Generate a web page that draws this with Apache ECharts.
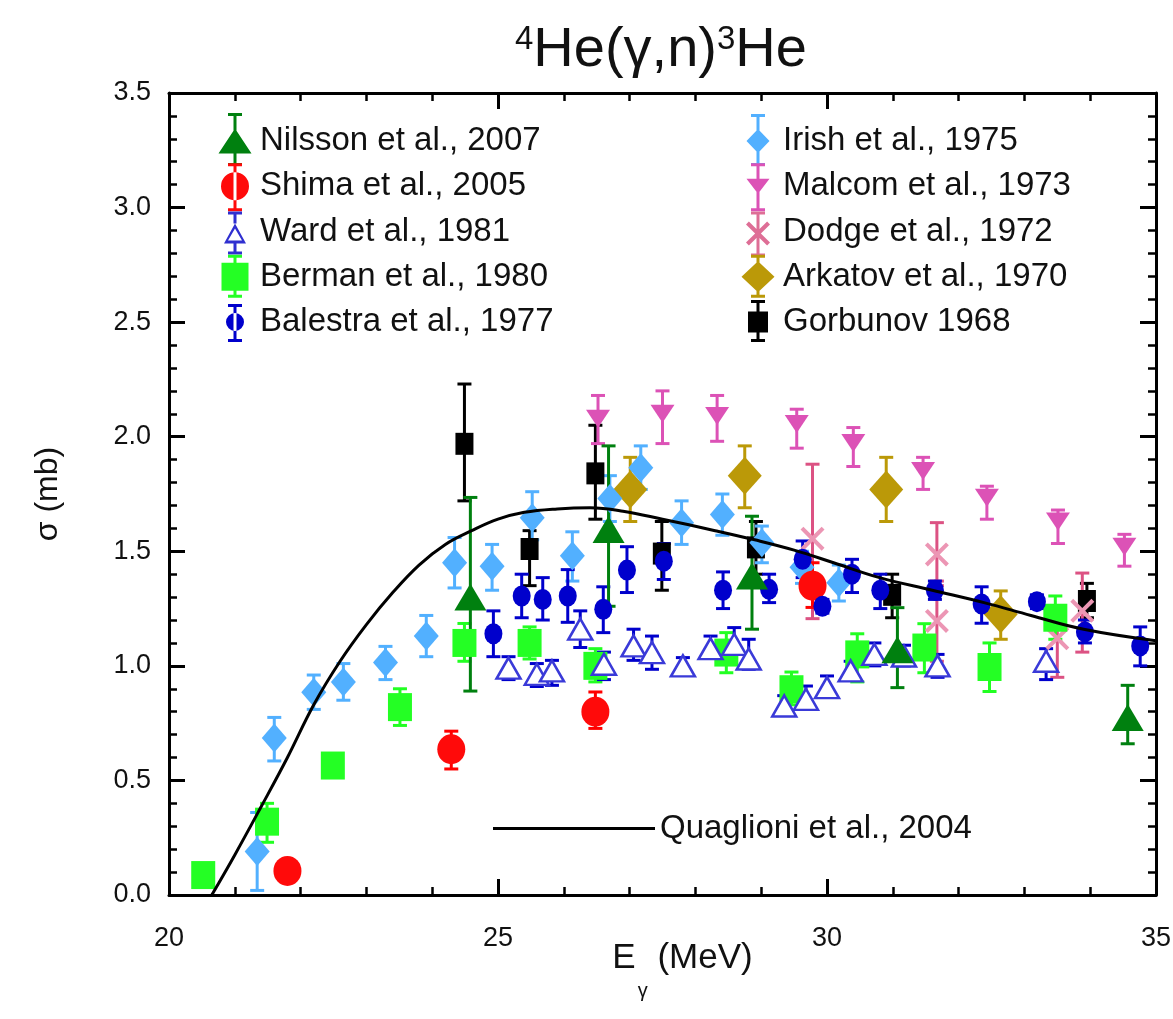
<!DOCTYPE html>
<html><head><meta charset="utf-8">
<script src="https://cdn.jsdelivr.net/npm/echarts@6/dist/echarts.min.js"></script>
<style>html,body{margin:0;padding:0;background:#fff}#c{width:1173px;height:1019px}</style>
</head><body><div id="c"></div><script>
// ---- data: [E (MeV), sigma (mb), sigma low, sigma high] ----
const nilsson = [[24.58,1.30,0.89,1.735],[26.68,1.595,1.26,1.96],[28.86,1.392,1.16,1.653],[31.07,1.07,0.905,1.254],[34.57,0.775,0.66,0.915]];
const shima = [[21.80,0.105,0.075,0.135],[24.29,0.636,0.55,0.715],[26.48,0.80,0.727,0.886],[29.78,1.35,1.255,1.45]];
const ward = [[25.16,0.99,0.94,1.04],[25.59,0.963,0.91,1.01],[25.82,0.978,0.915,1.024],[26.25,1.16,1.08,1.24],
  [26.61,1.007,0.94,1.06],[27.06,1.087,1.024,1.16],[27.34,1.058,0.985,1.13],[27.81,1.0,0.97,1.036],
  [28.23,1.075,1.036,1.13],[28.59,1.094,1.05,1.167],[28.81,1.03,0.985,1.116],[29.35,0.825,0.79,0.87],
  [29.68,0.854,0.81,0.912],[30.0,0.905,0.876,0.956],[30.36,0.978,0.94,1.02],[30.72,1.05,1.0,1.10],
  [31.17,1.043,1.0,1.09],[31.68,1.0,0.95,1.05],[33.33,1.02,0.94,1.075]];
const berman = [[20.52,0.087,0.06,0.11],[21.49,0.32,0.23,0.40],[22.49,0.565,0.54,0.59],[23.51,0.82,0.74,0.90],
  [24.49,1.10,1.02,1.185],[25.48,1.10,1.03,1.17],[26.48,1.0,0.93,1.075],[28.47,1.058,0.97,1.145],
  [29.46,0.898,0.83,0.973],[30.46,1.05,0.93,1.14],[31.48,1.08,0.97,1.184],[32.47,0.995,0.888,1.10],
  [33.47,1.21,1.116,1.305]];
const balestra = [[24.93,1.14,1.04,1.24],[25.36,1.305,1.21,1.40],[25.68,1.29,1.20,1.385],[26.06,1.305,1.19,1.42],
  [26.60,1.247,1.145,1.345],[26.96,1.418,1.32,1.52],[27.52,1.457,1.377,1.534],[28.42,1.33,1.25,1.41],
  [29.12,1.334,1.276,1.40],[29.63,1.465,1.385,1.545],[29.93,1.26,1.23,1.29],[30.38,1.40,1.32,1.465],
  [30.81,1.33,1.25,1.40],[31.64,1.33,1.29,1.37],[32.35,1.27,1.186,1.345],[33.19,1.28,1.25,1.31],
  [33.92,1.148,1.10,1.20],[34.76,1.087,1.0,1.17]];
const irish = [[21.34,0.19,0.02,0.36],[21.60,0.685,0.585,0.775],[22.20,0.885,0.81,0.96],[22.65,0.93,0.85,1.01],
  [23.29,1.015,0.94,1.085],[23.91,1.13,1.04,1.22],[24.34,1.45,1.34,1.56],[24.91,1.435,1.33,1.53],
  [25.52,1.646,1.55,1.76],[26.13,1.48,1.37,1.585],[26.70,1.73,1.63,1.83],[27.17,1.865,1.77,1.96],
  [27.79,1.625,1.53,1.72],[28.41,1.66,1.57,1.75],[29.01,1.537,1.45,1.61],[29.62,1.43,1.36,1.50],
  [30.18,1.363,1.283,1.44]];
const malcom = [[26.52,2.078,1.97,2.18],[27.50,2.10,1.97,2.20],[28.33,2.09,1.98,2.18],[29.54,2.055,1.95,2.12],
  [30.40,1.973,1.87,2.04],[31.46,1.85,1.77,1.91],[32.43,1.734,1.64,1.784],[33.51,1.63,1.534,1.68],
  [34.52,1.52,1.435,1.574]];
const dodge = [[29.78,1.555,1.206,1.88],[31.67,1.486,1.35,1.625],[31.67,1.196,1.02,1.37],[33.50,1.12,0.95,1.25],[33.88,1.24,1.06,1.405]];
const arkatov = [[27.01,1.77,1.63,1.91],[28.75,1.83,1.69,1.96],[30.90,1.77,1.63,1.91],[32.64,1.225,1.116,1.327]];
const gorbunov = [[24.49,1.969,1.72,2.23],[25.48,1.51,1.35,1.59],[26.48,1.84,1.64,2.05],[27.49,1.49,1.33,1.63],
  [28.92,1.517,1.40,1.63],[30.99,1.31,1.21,1.40],[33.95,1.283,1.21,1.36]];
const quaglioniE = [20.65,21.0,21.4,21.8,22.2,22.6,23.0,23.4,23.8,24.2,24.6,25.0,25.4,25.9,26.4,26.9,27.5,28.3,28.9,29.5,30.1,30.8,31.6,32.4,33.1,33.9,35.0];
const quaglioniS = [0.0,0.175,0.385,0.6,0.83,1.02,1.18,1.32,1.44,1.53,1.59,1.64,1.67,1.685,1.69,1.675,1.64,1.59,1.55,1.505,1.45,1.385,1.33,1.275,1.22,1.16,1.11];
const xTicks = [20, 25, 30, 35];
const yTicks = [0.0, 0.5, 1.0, 1.5, 2.0, 2.5, 3.0, 3.5];

// ---- styling ----
const FONT = '"Liberation Sans", Arial, Helvetica, sans-serif';
const TXT = '#111';

function rect(x, y, w, h) { return `M${x} ${y}L${x + w} ${y}L${x + w} ${y + h}L${x} ${y + h}Z`; }
const BOX = 'M0 0L0.01 0L0 0.01Z M40 56L39.99 56L40 55.99Z';
function bar(top, bot, capW, skip) {
  const lw = 3;
  let p = rect(20 - capW / 2, top, capW, lw) + rect(20 - capW / 2, bot - lw, capW, lw);
  if (skip) p += rect(20 - lw / 2, top, lw, skip[0] - top) + rect(20 - lw / 2, skip[1], lw, bot - skip[1]);
  else p += rect(20 - lw / 2, top, lw, bot - top);
  return p;
}
function tri(cx, cy, w, h) { return `M${cx} ${cy - h / 2}L${cx + w / 2} ${cy + h / 2}L${cx - w / 2} ${cy + h / 2}Z`; }
function triInner(cx, cy, w, h) { return `M${cx} ${cy - h / 2}L${cx - w / 2} ${cy + h / 2}L${cx + w / 2} ${cy + h / 2}Z`; }
function itri(cx, cy, w, h) { return `M${cx - w / 2} ${cy - h / 2}L${cx + w / 2} ${cy - h / 2}L${cx} ${cy + h / 2}Z`; }
function circ(cx, cy, r) { return `M${cx - r} ${cy}A${r} ${r} 0 1 0 ${cx + r} ${cy}A${r} ${r} 0 1 0 ${cx - r} ${cy}Z`; }
function dia(cx, cy, w, h) { return `M${cx} ${cy - h / 2}L${cx + w / 2} ${cy}L${cx} ${cy + h / 2}L${cx - w / 2} ${cy}Z`; }
function xmark(cx, cy, s) {
  const k = s / 10, X = v => cx - s / 2 + v * k, Y = v => cy - s / 2 + v * k;
  const pts = [[0,1.2],[1.2,0],[5,3.8],[8.8,0],[10,1.2],[6.2,5],[10,8.8],[8.8,10],[5,6.2],[1.2,10],[0,8.8],[3.8,5]];
  return 'M' + pts.map(p => X(p[0]) + ' ' + Y(p[1])).join('L') + 'Z';
}
const XPATH = 'path://' + xmark(5, 5, 10);

const icons = {
  'Nilsson et al., 2007': BOX + bar(0, 53, 14) + tri(20, 28, 33, 25),
  'Shima et al., 2005': BOX + bar(5, 53, 14) + circ(20, 28, 14),
  'Ward et al., 1981': BOX + bar(8, 51, 14, [20, 40]) + tri(20, 30, 22, 20) + triInner(20, 31, 14, 12),
  'Berman et al., 1980': BOX + bar(6, 49, 14) + rect(6.5, 14, 27, 28),
  'Balestra et al., 1977': BOX + bar(10, 48, 14) + circ(20, 28, 9),
  'Irish et al., 1975': BOX + bar(1, 53, 14) + dia(20, 28, 23, 24),
  'Malcom et al., 1973': BOX + bar(5, 53, 14) + itri(20, 28, 23, 15),
  'Dodge et al., 1972': BOX + bar(8, 53, 14) + xmark(20, 30, 24),
  'Arkatov et al., 1970': BOX + bar(6, 49, 14) + dia(20, 28, 33, 31),
  'Gorbunov 1968': BOX + bar(6, 48, 14) + rect(10, 17.5, 20, 21)
};

const sets = [
  {name: 'Gorbunov 1968', data: gorbunov, err: '#000000', symbol: 'rect', size: [18, 22], item: {color: '#000000'}},
  {name: 'Arkatov et al., 1970', data: arkatov, err: '#bb9908', symbol: 'diamond', size: [34, 38], item: {color: '#bb9908'}},
  {name: 'Dodge et al., 1972', data: dodge, err: '#dc5283', symbol: XPATH, size: [24, 24], item: {color: '#ec96b4'}, legendColor: '#de6e96'},
  {name: 'Malcom et al., 1973', data: malcom, err: '#dc52b6', symbol: 'triangle', rotate: 180, size: [24, 18], item: {color: '#dc52b6'}},
  {name: 'Irish et al., 1975', data: irish, err: '#52b0ff', symbol: 'diamond', size: [25, 29], item: {color: '#52b0ff'}},
  {name: 'Shima et al., 2005', data: shima, err: '#ff0000', symbol: 'circle', size: [28, 30], item: {color: '#ff0a0a'}},
  {name: 'Berman et al., 1980', data: berman, err: '#22ff22', symbol: 'rect', size: [24, 28], item: {color: '#24ff24'}},
  {name: 'Ward et al., 1981', data: ward, err: '#0000cc', symbol: 'triangle', size: [24, 21], item: {color: '#ffffff', borderColor: '#3a3ad8', borderWidth: 2.5}, legendColor: '#2f2fd0'},
  {name: 'Balestra et al., 1977', data: balestra, err: '#0000cc', symbol: 'circle', size: [18, 21], item: {color: '#0000cc'}},
  {name: 'Nilsson et al., 2007', data: nilsson, err: '#00800f', symbol: 'triangle', size: [32, 27], item: {color: '#00800f'}}
];

function errRender(color, capW) {
  return function (params, api) {
    const x = api.value(0), lo = api.value(2), hi = api.value(3);
    const a = api.coord([x, hi]), b = api.coord([x, lo]);
    const st = {stroke: color, lineWidth: 3, fill: null};
    return {type: 'group', children: [
      {type: 'line', shape: {x1: a[0], y1: a[1], x2: b[0], y2: b[1]}, style: st},
      {type: 'line', shape: {x1: a[0] - capW / 2, y1: a[1], x2: a[0] + capW / 2, y2: a[1]}, style: st},
      {type: 'line', shape: {x1: b[0] - capW / 2, y1: b[1], x2: b[0] + capW / 2, y2: b[1]}, style: st}
    ]};
  };
}

const series = [{
  type: 'line', name: 'Quaglioni et al., 2004',
  data: quaglioniE.map((e, i) => [e, quaglioniS[i]]),
  smooth: 0.4, symbol: 'none', silent: true,
  lineStyle: {color: '#000', width: 3}, itemStyle: {color: '#000'}
}];
sets.forEach(s => {
  series.push({type: 'custom', name: s.name + ' err', data: s.data, silent: true,
    renderItem: errRender(s.err, 14)});
  series.push({type: 'scatter', name: s.name, data: s.data.map(r => [r[0], r[1]]), silent: true,
    symbol: s.symbol, symbolSize: s.size, symbolRotate: s.rotate || 0,
    itemStyle: Object.assign({opacity: 1}, s.item)});
});

function legendData(names) {
  return names.map(n => {
    const s = sets.find(q => q.name === n);
    return {name: n, icon: 'path://' + icons[n],
      itemStyle: {color: s.legendColor || s.item.color, borderWidth: 0, opacity: 1}};
  });
}
const legendCommon = {
  orient: 'vertical', itemWidth: 40, itemHeight: 56, itemGap: -10.75, selectedMode: false,
  textStyle: {fontSize: 33, fontFamily: FONT, color: TXT}, itemStyle: {borderWidth: 0}, padding: 0
};

function axisCommon(isX, pos, showLabel) {
  return {
    type: 'value', position: pos,
    min: isX ? 20 : 0, max: isX ? 35 : 3.5, interval: isX ? 5 : 0.5,
    axisLine: {show: true, onZero: false, lineStyle: {color: '#000', width: 3}},
    axisTick: {show: true, inside: true, length: 16, lineStyle: {color: '#000', width: 3}},
    minorTick: {show: true, splitNumber: 5, length: 8, lineStyle: {color: '#000', width: 2.5}},
    splitLine: {show: false}, minorSplitLine: {show: false},
    axisLabel: {show: showLabel, fontSize: 27, fontFamily: FONT, color: TXT, margin: isX ? 30 : 18,
      formatter: v => isX ? (xTicks.includes(v) ? String(v) : '') : (yTicks.includes(v) ? v.toFixed(1) : '')}
  };
}

const xMain = Object.assign(axisCommon(true, 'bottom', true), {
  name: '{e|E}{g|γ}{m| (MeV)}', nameLocation: 'middle', nameGap: 20, nameMoveOverlap: false,
  nameTextStyle: {rich: {
    e: {fontSize: 35, fontFamily: FONT, color: TXT, padding: [0, 0, 0, 40]},
    m: {fontSize: 35, fontFamily: FONT, color: TXT},
    g: {fontSize: 20, fontFamily: FONT, color: TXT, padding: [66, 0, 0, 2]}
  }}
});
const yMain = Object.assign(axisCommon(false, 'left', true), {
  name: 'σ (mb)', nameLocation: 'middle', nameGap: 105, nameMoveOverlap: false,
  nameTextStyle: {fontSize: 32, fontFamily: FONT, color: TXT}
});

const option = {
  animation: false,
  backgroundColor: '#fff',
  title: {
    text: '{s|4}{m|He(γ,n)}{s|3}{m|He}', left: 510, top: 18,
    textStyle: {fontWeight: 'normal', rich: {
      m: {fontSize: 56, fontFamily: FONT, color: TXT, fontWeight: 'normal'},
      s: {fontSize: 33, fontFamily: FONT, color: TXT, fontWeight: 'normal', verticalAlign: 'top'}
    }}
  },
  grid: {left: 169, right: 17, top: 93, bottom: 124, containLabel: false, outerBoundsMode: 'none'},
  xAxis: [xMain, axisCommon(true, 'top', false)],
  yAxis: [yMain, axisCommon(false, 'right', false)],
  legend: [
    Object.assign({}, legendCommon, {left: 215, top: 113,
      data: legendData(['Nilsson et al., 2007', 'Shima et al., 2005', 'Ward et al., 1981', 'Berman et al., 1980', 'Balestra et al., 1977'])}),
    Object.assign({}, legendCommon, {left: 738, top: 113,
      data: legendData(['Irish et al., 1975', 'Malcom et al., 1973', 'Dodge et al., 1972', 'Arkatov et al., 1970', 'Gorbunov 1968'])}),
    {orient: 'vertical', left: 493, top: 812, itemWidth: 162, itemHeight: 3, selectedMode: false, padding: 0,
      textStyle: {fontSize: 33, fontFamily: FONT, color: TXT},
      data: [{name: 'Quaglioni et al., 2004', icon: 'rect', itemStyle: {color: '#000'}}]}
  ],
  series: series
};

const chart = echarts.init(document.getElementById('c'), null, {renderer: 'canvas'});
chart.setOption(option);
</script></body></html>
